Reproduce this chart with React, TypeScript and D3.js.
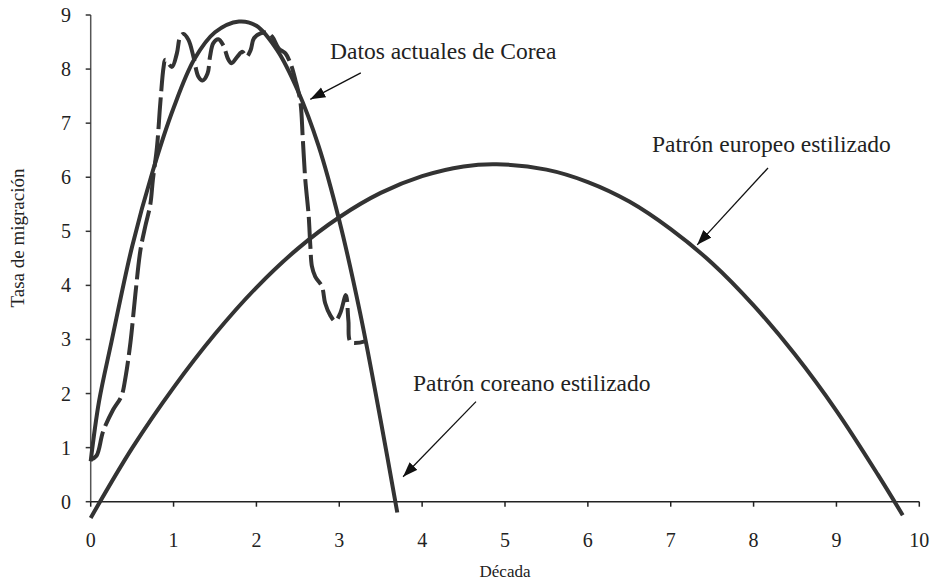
import React from "react";
import * as d3 from "d3";

const xTicks = [0, 1, 2, 3, 4, 5, 6, 7, 8, 9, 10];
const yTicks = [0, 1, 2, 3, 4, 5, 6, 7, 8, 9];

// Patrón coreano estilizado
const koreaStylX = [0, 0.1, 0.25, 0.5, 0.75, 1.0, 1.25, 1.5, 1.79, 2.0, 2.25, 2.5, 2.75, 3.0, 3.25, 3.5, 3.7];
const koreaStylY = [0.75, 1.85, 2.95, 4.72, 6.12, 7.28, 8.18, 8.68, 8.88, 8.8, 8.35, 7.6, 6.58, 5.2, 3.5, 1.5, -0.2];

// Patrón europeo estilizado
const europeX = [0, 0.5, 1, 1.5, 2, 2.5, 3, 3.5, 4, 4.5, 4.9, 5.5, 6, 6.5, 7, 7.5, 8, 8.5, 9, 9.5, 9.8];
const europeY = [-0.3, 0.99, 2.11, 3.1, 3.96, 4.68, 5.26, 5.71, 6.02, 6.2, 6.24, 6.14, 5.91, 5.55, 5.04, 4.41, 3.63, 2.72, 1.68, 0.5, -0.25];

// Datos actuales de Corea
const koreaDataX = [0, 0.07, 0.15, 0.27, 0.37, 0.42, 0.48, 0.54, 0.6, 0.66, 0.72, 0.75, 0.8, 0.84, 0.88, 0.9, 0.98, 1.04, 1.08, 1.12, 1.18, 1.24, 1.3, 1.35, 1.41, 1.44, 1.48, 1.54, 1.6, 1.66, 1.7, 1.77, 1.83, 1.88, 1.93, 1.97, 2.05, 2.13, 2.19, 2.27, 2.35, 2.41, 2.47, 2.53, 2.56, 2.59, 2.63, 2.65, 2.67, 2.71, 2.79, 2.83, 2.89, 2.95, 3.01, 3.08, 3.11, 3.14, 3.32];
const koreaDataY = [0.78, 0.85, 1.3, 1.7, 1.95, 2.3, 2.95, 3.85, 4.65, 5.1, 5.5, 5.95, 6.56, 7.37, 8.04, 8.17, 8.04, 8.29, 8.6, 8.65, 8.54, 8.23, 7.86, 7.79, 7.92, 8.23, 8.48, 8.55, 8.44, 8.18, 8.11, 8.23, 8.32, 8.23, 8.35, 8.57, 8.66, 8.67, 8.6, 8.38, 8.29, 8.11, 7.8, 7.4, 6.7, 5.95, 5.3, 4.75, 4.35, 4.16, 3.98, 3.67, 3.45, 3.34, 3.48, 3.82, 3.35, 2.95, 2.97];

const labelKoreaData = "Datos actuales de Corea";
const labelEurope = "Patrón europeo estilizado";
const labelKoreaStyl = "Patrón coreano estilizado";
const xTitle = "Década";
const yTitle = "Tasa de migración";

const W = 936;
const H = 580;
const FONT = "'Liberation Serif', 'Times New Roman', serif";
const INK = "#333333";

export default function App() {
  const x = d3.scaleLinear().domain([0, 10]).range([90.7, 919.3]);
  const y = d3.scaleLinear().domain([0, 9]).range([501.7, 15]);

  const line = d3
    .line<[number, number]>()
    .x((d) => x(d[0]))
    .y((d) => y(d[1]))
    .curve(d3.curveCatmullRom.alpha(0.5));

  const zip = (xs: number[], ys: number[]) => xs.map((v, i) => [v, ys[i]] as [number, number]);

  const annotations = [
    { text: labelKoreaData, tx: 2.888, ty: 8.186, a: [3.26, 7.93, 2.65, 7.44] },
    { text: labelEurope, tx: 6.774, ty: 6.466, a: [8.174, 6.171, 7.32, 4.75] },
    { text: labelKoreaStyl, tx: 3.89, ty: 2.047, a: [4.65, 1.85, 3.77, 0.46] },
  ];

  return (
    <svg
      width={W}
      height={H}
      style={{ position: "absolute", left: 0, top: 0, background: "#fff" }}
      fontFamily={FONT}
    >
      <defs>
        <marker
          id="arrowhead"
          markerUnits="userSpaceOnUse"
          markerWidth={16}
          markerHeight={12}
          refX={15}
          refY={5.5}
          orient="auto"
        >
          <path d="M0,0 L15,5.5 L0,11 Z" fill="#111" />
        </marker>
      </defs>

      {/* axes */}
      <line x1={x(0)} x2={x(0)} y1={y(9)} y2={y(0)} stroke="#555" strokeWidth={1.5} />
      <line x1={x(0)} x2={x(10)} y1={y(0)} y2={y(0)} stroke="#222" strokeWidth={1.5} />
      {yTicks.map((t) => (
        <g key={"y" + t}>
          <line x1={x(0) - 5} x2={x(0)} y1={y(t)} y2={y(t)} stroke="#333" strokeWidth={1.5} />
          <text x={71} y={y(t) + 7} textAnchor="end" fontSize={20} fill="#222">
            {t}
          </text>
        </g>
      ))}
      {xTicks.map((t) => (
        <g key={"x" + t}>
          <line x1={x(t)} x2={x(t)} y1={y(0)} y2={y(0) + 5} stroke="#222" strokeWidth={1.5} />
          <text x={x(t)} y={547} textAnchor="middle" fontSize={20} fill="#222">
            {t}
          </text>
        </g>
      ))}

      <text x={505} y={577} textAnchor="middle" fontSize={17} fill="#222">
        {xTitle}
      </text>
      <text
        transform={`translate(24, 238) rotate(-90)`}
        textAnchor="middle"
        fontSize={19}
        fill="#222"
      >
        {yTitle}
      </text>

      {/* series */}
      <path d={line(zip(europeX, europeY)) || ""} fill="none" stroke={INK} strokeWidth={4} />
      <path d={line(zip(koreaStylX, koreaStylY)) || ""} fill="none" stroke={INK} strokeWidth={4} />
      <path
        d={line(zip(koreaDataX, koreaDataY)) || ""}
        fill="none"
        stroke={INK}
        strokeWidth={4}
        strokeDasharray="32,6"
        strokeLinejoin="round"
      />

      {/* annotations */}
      {annotations.map((an, i) => (
        <g key={"an" + i}>
          <text x={x(an.tx)} y={y(an.ty)} fontSize={23.5} fill="#222">
            {an.text}
          </text>
          <line
            x1={x(an.a[0])}
            y1={y(an.a[1])}
            x2={x(an.a[2])}
            y2={y(an.a[3])}
            stroke="#111"
            strokeWidth={1.3}
            markerEnd="url(#arrowhead)"
          />
        </g>
      ))}
    </svg>
  );
}
